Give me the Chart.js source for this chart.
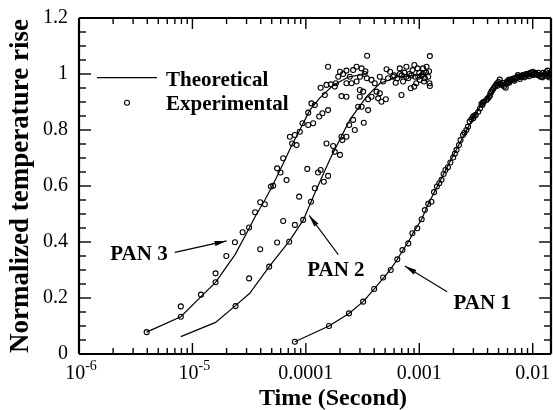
<!DOCTYPE html>
<html lang="en">
<head>
<meta charset="UTF-8">
<title>Normalized temperature rise</title>
<script src="https://cdn.jsdelivr.net/npm/chart.js"></script>
<style>
  body { margin: 0; background: #fff; }
</style>
</head>
<body>
<canvas id="myChart" width="553" height="410"></canvas>
<script>
// axis ticks
const xTickValues = [1e-6, 1e-5, 1e-4, 1e-3, 1e-2];
const xTickLabels = ['10', '10', '0.0001', '0.001', '0.01'];
const xTickExponents = ['-6', '-5', '', '', ''];
const yTickValues = [0, 0.2, 0.4, 0.6, 0.8, 1, 1.2];
const yTickLabels = ['0', '0.2', '0.4', '0.6', '0.8', '1', '1.2'];

// theoretical curves: time (s) and normalized rise
const pan1TheoryT = [8.0e-5, 1.6e-4, 2.4e-4, 3.2e-4, 4.0e-4, 4.8e-4, 5.6e-4, 6.4e-4, 7.1e-4, 8.0e-4, 8.7e-4, 1.05e-3, 1.2e-3, 1.44e-3, 1.7e-3, 2.0e-3, 2.5e-3, 3.0e-3, 3.5e-3, 4.1e-3, 4.9e-3, 6.0e-3, 8.0e-3, 1.0e-2, 1.45e-2];
const pan1TheoryY = [0.044, 0.10, 0.145, 0.187, 0.232, 0.270, 0.303, 0.338, 0.368, 0.40, 0.428, 0.481, 0.536, 0.598, 0.655, 0.71, 0.785, 0.845, 0.888, 0.92, 0.955, 0.975, 0.99, 1.0, 1.0];
const pan2TheoryT = [7.9e-6, 1.6e-5, 2.37e-5, 3.2e-5, 4.75e-5, 7.2e-5, 9.5e-5, 1.2e-4, 1.65e-4, 2.44e-4, 3.43e-4, 4.5e-4, 6.5e-4, 1.2e-3];
const pan2TheoryY = [0.062, 0.113, 0.171, 0.217, 0.312, 0.405, 0.479, 0.575, 0.70, 0.836, 0.919, 0.967, 0.99, 1.0];
const pan3TheoryT = [3.94e-6, 7.9e-6, 1.19e-5, 1.6e-5, 2.0e-5, 2.37e-5, 3.0e-5, 3.57e-5, 4.35e-5, 4.92e-5, 5.58e-5, 6.31e-5, 7.5e-5, 8.85e-5, 1.08e-4, 1.33e-4, 1.74e-4, 2.4e-4, 3.4e-4];
const pan3TheoryY = [0.078, 0.133, 0.205, 0.256, 0.312, 0.354, 0.431, 0.49, 0.55, 0.59, 0.635, 0.68, 0.745, 0.80, 0.87, 0.915, 0.96, 0.99, 1.0];

// experimental points [time (s), rise]
const pan1Exp = [
  [8.0e-5, 0.044], [1.6e-4, 0.10], [2.4e-4, 0.145], [3.2e-4, 0.187], [4.0e-4, 0.232], [4.8e-4, 0.273],
  [5.6e-4, 0.30], [6.4e-4, 0.338], [7.1e-4, 0.371], [8.0e-4, 0.395], [8.7e-4, 0.431], [9.6e-4, 0.449],
  [1.05e-3, 0.481], [1.12e-3, 0.514], [1.2e-3, 0.536], [1.28e-3, 0.544], [1.35e-3, 0.578], [1.43e-3, 0.598],
  [1.5e-3, 0.61], [1.57e-3, 0.622], [1.64e-3, 0.643], [1.7e-3, 0.657], [1.79e-3, 0.667], [1.88e-3, 0.684],
  [1.99e-3, 0.702], [2.06e-3, 0.715], [2.13e-3, 0.729], [2.24e-3, 0.746], [2.31e-3, 0.764], [2.43e-3, 0.782],
  [2.5e-3, 0.79], [2.6e-3, 0.80], [2.69e-3, 0.812], [2.78e-3, 0.83], [2.88e-3, 0.838], [2.98e-3, 0.848],
  [3.07e-3, 0.851], [3.15e-3, 0.854], [3.31e-3, 0.865], [3.43e-3, 0.877], [3.53e-3, 0.893], [3.62e-3, 0.897],
  [3.71e-3, 0.901], [3.91e-3, 0.907], [4.0e-3, 0.912], [4.1e-3, 0.917], [4.24e-3, 0.931], [4.33e-3, 0.937],
  [4.42e-3, 0.943], [4.53e-3, 0.949], [4.64e-3, 0.955], [4.75e-3, 0.961], [4.86e-3, 0.967], [5.0e-3, 0.971],
  [5.12e-3, 0.98], [5.2e-3, 0.965], [5.3e-3, 0.962], [5.47e-3, 0.961], [5.6e-3, 0.955], [5.78e-3, 0.951],
  [5.85e-3, 0.965], [5.93e-3, 0.973], [6.05e-3, 0.97], [6.15e-3, 0.979], [6.27e-3, 0.979], [6.4e-3, 0.976],
  [6.55e-3, 0.982], [6.7e-3, 0.979], [6.85e-3, 0.985], [7.0e-3, 0.983], [7.18e-3, 0.985], [7.3e-3, 0.99],
  [7.4e-3, 0.996], [7.55e-3, 0.988], [7.68e-3, 0.99], [7.85e-3, 0.994], [8.0e-3, 0.99], [8.22e-3, 0.996],
  [8.4e-3, 0.993], [8.6e-3, 0.998], [8.8e-3, 1.0], [9.0e-3, 0.996], [9.2e-3, 1.002], [9.4e-3, 1.0],
  [9.6e-3, 1.004], [9.8e-3, 0.998], [1.0e-2, 1.008], [1.03e-2, 1.0], [1.05e-2, 1.004], [1.07e-2, 1.0],
  [1.1e-2, 0.996], [1.14e-2, 0.996], [1.17e-2, 0.99], [1.2e-2, 0.992], [1.22e-2, 0.988], [1.25e-2, 0.996],
  [1.29e-2, 1.0], [1.32e-2, 1.006], [1.35e-2, 1.012], [1.38e-2, 0.996], [1.4e-2, 0.988], [1.42e-2, 1.004], [1.44e-2, 1.0],
  [3.0e-3, 0.842], [3.6e-3, 0.889], [4.2e-3, 0.922], [4.9e-3, 0.958], [5.5e-3, 0.968], [6.2e-3, 0.969],
  [6.9e-3, 0.976], [7.7e-3, 0.982], [8.5e-3, 0.988], [9.3e-3, 0.992], [1.01e-2, 0.996], [1.12e-2, 1.004],
  [1.24e-2, 1.004], [1.33e-2, 0.992], [1.43e-2, 0.994]
];
const pan2Exp = [
  [2.4e-5, 0.171], [3.16e-5, 0.27], [3.96e-5, 0.374], [4.75e-5, 0.312], [5.58e-5, 0.398], [6.31e-5, 0.475],
  [7.13e-5, 0.401], [8.0e-5, 0.461], [9.47e-5, 0.479], [8.73e-5, 0.562], [1.11e-4, 0.544], [1.2e-4, 0.592],
  [1.44e-4, 0.615], [1.57e-4, 0.636], [1.28e-4, 0.648], [1.35e-4, 0.657], [1.03e-4, 0.661], [1.52e-4, 0.752],
  [1.74e-4, 0.743], [1.8e-4, 0.722], [2.0e-4, 0.711], [2.1e-4, 0.764], [2.28e-4, 0.776], [2.06e-4, 0.776],
  [2.41e-4, 0.818], [2.61e-4, 0.836], [2.7e-4, 0.80], [3.24e-4, 0.826], [2.89e-4, 0.883], [3.1e-4, 0.883],
  [3.54e-4, 0.871], [2.99e-4, 0.919], [3.54e-4, 0.91], [3.79e-4, 0.919], [4.34e-4, 0.913], [4.64e-4, 0.901],
  [5.07e-4, 0.91], [4.2e-4, 0.937], [4.49e-4, 0.931], [6.97e-4, 0.925], [4.05e-4, 0.967], [4.8e-4, 0.973],
  [5.31e-4, 0.985], [5.87e-4, 0.99], [6.73e-4, 1.0], [6.2e-4, 0.969], [7.2e-4, 0.973], [7.7e-4, 0.99],
  [8.17e-4, 1.0], [8.73e-4, 1.014], [9.04e-4, 1.032], [9.66e-4, 1.02], [1.01e-3, 0.979], [1.08e-3, 1.0],
  [1.16e-3, 1.026], [1.24e-3, 1.064], [1.23e-3, 0.967], [8.41e-4, 0.949], [9.04e-4, 0.955], [9.4e-4, 0.967],
  [5.53e-4, 1.008], [7.7e-4, 1.026], [6.73e-4, 1.02], [5.15e-4, 1.017], [4.49e-4, 0.99], [3.79e-4, 0.979],
  [1.24e-3, 0.957], [1.08e-3, 1.02], [1.2e-3, 0.99], [1.12e-3, 0.985], [1.05e-3, 0.995], [9.8e-4, 0.99],
  [1.15e-3, 1.005], [1.22e-3, 1.01], [6.0e-4, 0.995], [6.4e-4, 0.985], [7.0e-4, 0.995], [7.4e-4, 1.005],
  [8.0e-4, 0.985], [8.5e-4, 0.995], [9.2e-4, 0.99], [1.0e-3, 1.004], [1.1e-3, 0.973]
];
const pan3Exp = [
  [3.95e-6, 0.078], [7.9e-6, 0.133], [7.9e-6, 0.170], [1.19e-5, 0.212], [1.6e-5, 0.256], [1.6e-5, 0.288],
  [1.99e-5, 0.35], [2.37e-5, 0.399], [2.77e-5, 0.435], [3.16e-5, 0.452], [3.57e-5, 0.506], [3.96e-5, 0.542],
  [4.35e-5, 0.535], [4.92e-5, 0.598], [5.15e-5, 0.601], [6.76e-5, 0.621], [5.58e-5, 0.663], [5.98e-5, 0.648],
  [6.31e-5, 0.699], [7.57e-5, 0.752], [8.28e-5, 0.746], [7.23e-5, 0.776], [8.85e-5, 0.794], [8.0e-5, 0.782],
  [9.35e-5, 0.824], [1.05e-4, 0.818], [1.16e-4, 0.824], [1.05e-4, 0.862], [1.12e-4, 0.895], [1.2e-4, 0.889],
  [1.31e-4, 0.848], [1.4e-4, 0.86], [1.57e-4, 0.871], [1.47e-4, 0.925], [1.52e-4, 0.961], [1.35e-4, 0.951],
  [1.66e-4, 0.963], [1.8e-4, 0.955], [1.57e-4, 1.026], [1.84e-4, 0.967], [1.93e-4, 0.99], [2.0e-4, 1.008],
  [2.13e-4, 1.0], [2.28e-4, 1.012], [2.44e-4, 0.99], [2.61e-4, 1.014], [2.8e-4, 1.026], [2.28e-4, 0.967],
  [2.53e-4, 0.967], [2.8e-4, 0.973], [2.06e-4, 0.921], [2.28e-4, 0.919], [2.99e-4, 0.943], [3.2e-4, 0.937],
  [3.47e-4, 1.065], [3.0e-4, 0.99], [3.3e-4, 1.0], [3.45e-4, 0.985], [3.35e-4, 1.01], [3.1e-4, 1.02]
];

// annotation labels with arrows, in data coordinates
const panLabels = ['PAN 1', 'PAN 2', 'PAN 3'];
const panLabelAt = [[3.59e-3, 0.184], [1.84e-4, 0.304], [3.38e-6, 0.36]];
const panArrowFrom = [[1.76e-3, 0.2225], [1.93e-4, 0.355], [7.0e-6, 0.363]];
const panArrowTo = [[7.45e-4, 0.314], [1.07e-4, 0.495], [2.0e-5, 0.404]];

const serif = "'Liberation Serif', 'Times New Roman', serif";
const frameColor = '#000000';

function pairs(t, y) { return t.map((v, i) => ({x: v, y: y[i]})); }
function pts(list) { return list.map(p => ({x: p[0], y: p[1]})); }

const theoryStyle = {showLine: true, borderColor: '#000', borderWidth: 1.2, pointRadius: 0, fill: false, tension: 0};
const expStyle = {showLine: false, pointStyle: 'circle', pointRadius: 2.5, borderWidth: 1.1,
  borderColor: '#000', pointBorderColor: '#000', pointBackgroundColor: 'rgba(0,0,0,0)'};

// frame, inward ticks on all four sides, x labels, x title, legend and PAN labels
const decorations = {
  id: 'decorations',
  afterDraw(chart) {
    const ctx = chart.ctx;
    const xs = chart.scales.x, ys = chart.scales.y;
    const L = xs.left, R = xs.right, T = ys.top, B = ys.bottom;
    ctx.save();
    ctx.fillStyle = '#000';
    ctx.strokeStyle = '#000';
    const seg = (x1, y1, x2, y2) => { ctx.beginPath(); ctx.moveTo(x1, y1); ctx.lineTo(x2, y2); ctx.stroke(); };

    // x tick labels, with superscript exponents
    ctx.textBaseline = 'alphabetic';
    xTickValues.forEach((v, i) => {
      const px = xs.getPixelForValue(v);
      ctx.font = '20px ' + serif;
      const w = ctx.measureText(xTickLabels[i]).width;
      ctx.font = '14px ' + serif;
      const we = xTickExponents[i] ? ctx.measureText(xTickExponents[i]).width : 0;
      const x0 = px - (w + we) / 2 + (we ? 2 : 0);
      ctx.textAlign = 'left';
      ctx.font = '20px ' + serif;
      ctx.fillText(xTickLabels[i], x0, B + 25);
      if (we) {
        ctx.font = '14px ' + serif;
        ctx.fillText(xTickExponents[i], x0 + w, B + 16);
      }
    });

    // x title
    ctx.font = 'bold 24px ' + serif;
    ctx.textAlign = 'center';
    ctx.fillText('Time (Second)', (L + R) / 2 + 18, B + 51);

    // legend
    ctx.lineWidth = 1.2;
    seg(97, 77.7, 157, 77.7);
    ctx.lineWidth = 1.1;
    ctx.beginPath();
    ctx.arc(127, 102.7, 2.5, 0, Math.PI * 2);
    ctx.stroke();
    ctx.font = 'bold 21px ' + serif;
    ctx.textAlign = 'left';
    ctx.fillText('Theoretical', 166, 86);
    ctx.fillText('Experimental', 166, 110);

    // PAN labels and arrows
    ctx.textAlign = 'center';
    panLabels.forEach((txt, i) => {
      const tx = xs.getPixelForValue(panLabelAt[i][0]);
      const ty = ys.getPixelForValue(panLabelAt[i][1]);
      ctx.fillText(txt, tx, ty + 7);
      const x1 = xs.getPixelForValue(panArrowFrom[i][0]), y1 = ys.getPixelForValue(panArrowFrom[i][1]);
      const x2 = xs.getPixelForValue(panArrowTo[i][0]), y2 = ys.getPixelForValue(panArrowTo[i][1]);
      ctx.lineWidth = 1.1;
      seg(x1, y1, x2, y2);
      const ang = Math.atan2(y2 - y1, x2 - x1);
      const hl = 12, hw = 2.6;
      ctx.beginPath();
      ctx.moveTo(x2, y2);
      ctx.lineTo(x2 - hl * Math.cos(ang) + hw * Math.sin(ang), y2 - hl * Math.sin(ang) - hw * Math.cos(ang));
      ctx.lineTo(x2 - hl * Math.cos(ang) - hw * Math.sin(ang), y2 - hl * Math.sin(ang) + hw * Math.cos(ang));
      ctx.closePath();
      ctx.fill();
    });

    // frame and inward ticks
    ctx.strokeStyle = frameColor;
    ctx.lineWidth = 1.4;
    for (let d = -6; d <= -2; d++) {
      for (let k = 1; k <= 9; k++) {
        const v = k * Math.pow(10, d);
        if (v > xs.max) continue;
        const px = xs.getPixelForValue(v);
        const len = k === 1 ? 11 : 6;
        seg(px, B, px, B - len);
        seg(px, T, px, T + len);
      }
    }
    for (let i = 0; i <= 24; i++) {
      const py = ys.getPixelForValue(i * 0.05);
      const len = i % 4 === 0 ? 12 : 7;
      seg(L, py, L + len, py);
      seg(R, py, R - len, py);
    }
    ctx.lineWidth = 2.2;
    seg(L, T, R, T);
    seg(R, T, R, B);
    seg(R, B, L, B);
    seg(L, B, L, T);
    ctx.restore();
  }
};

new Chart(document.getElementById('myChart'), {
  type: 'scatter',
  data: {
    datasets: [
      Object.assign({label: 'PAN 1 theoretical', data: pairs(pan1TheoryT, pan1TheoryY)}, theoryStyle),
      Object.assign({label: 'PAN 2 theoretical', data: pairs(pan2TheoryT, pan2TheoryY)}, theoryStyle),
      Object.assign({label: 'PAN 3 theoretical', data: pairs(pan3TheoryT, pan3TheoryY)}, theoryStyle),
      Object.assign({label: 'PAN 1 experimental', data: pts(pan1Exp)}, expStyle),
      Object.assign({label: 'PAN 2 experimental', data: pts(pan2Exp)}, expStyle),
      Object.assign({label: 'PAN 3 experimental', data: pts(pan3Exp)}, expStyle)
    ]
  },
  options: {
    responsive: false,
    animation: false,
    layout: {autoPadding: false, padding: {top: 18, right: 2, left: 0, bottom: 0}},
    plugins: {legend: {display: false}, tooltip: {enabled: false}},
    scales: {
      x: {
        type: 'logarithmic',
        min: 1e-6,
        max: 0.0145,
        grid: {display: false, drawTicks: false},
        border: {display: false},
        afterBuildTicks: s => { s.ticks = xTickValues.map(v => ({value: v})); },
        afterFit: s => { s.height = 56; s.paddingLeft = 0; s.paddingRight = 0; },
        ticks: {display: false, autoSkip: false, maxRotation: 0},
        title: {display: false}
      },
      y: {
        min: 0,
        max: 1.2,
        grid: {display: false, drawTicks: false},
        border: {display: false},
        afterBuildTicks: s => { s.ticks = yTickValues.map(v => ({value: v})); },
        afterFit: s => { s.width = 79; s.paddingTop = 0; s.paddingBottom = 0; },
        ticks: {
          padding: 11, color: '#000',
          font: {family: serif, size: 20},
          callback: (v, i) => yTickLabels[i]
        },
        title: {display: true, text: 'Normalized temperature rise', color: '#000',
          font: {family: serif, size: 27, weight: 'bold', lineHeight: 1}, padding: {top: 8, bottom: 0}}
      }
    }
  },
  plugins: [decorations]
});
</script>
</body>
</html>
